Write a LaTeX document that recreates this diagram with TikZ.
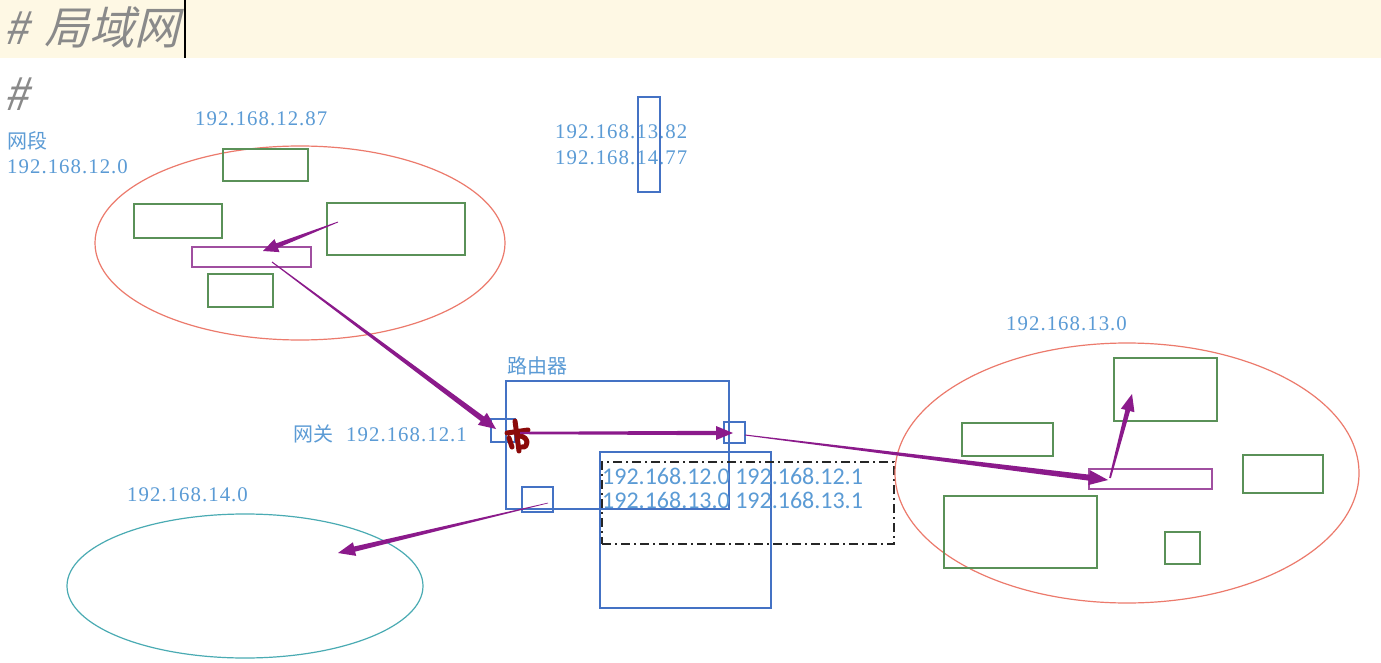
\documentclass[tikz,border=0pt]{standalone}
\usepackage{fontspec}
\setmainfont{Liberation Serif}
\newfontfamily\cjk{Noto Sans CJK SC}
\newfontfamily\cjktitle[FakeSlant=0.25]{Noto Sans CJK SC}
\newfontfamily\ipfont[LetterSpace=5]{Liberation Serif}
\newfontfamily\calib{Carlito}
\usetikzlibrary{shapes.geometric,arrows.meta,calc}
\definecolor{hdr}{HTML}{FEF8E4}
\definecolor{ttl}{HTML}{8A8A8A}
\definecolor{iptext}{HTML}{5B9BD5}
\definecolor{bblue}{HTML}{4472C4}
\definecolor{bgreen}{HTML}{5A9158}
\definecolor{ered}{HTML}{EC7A6C}
\definecolor{eteal}{HTML}{4AABB3}
\definecolor{parrow}{HTML}{8B1A8B}
\definecolor{pbox}{HTML}{A04FA0}
\definecolor{scrib}{HTML}{8B0A0A}
\newcommand\tarrow[7]{%
  \coordinate (tmpb) at ($(#2)!#5!(#1)$);
  \fill[#7] ($(#1)!#3!90:(#2)$) -- ($(tmpb)!#4!-90:(#1)$) -- ($(tmpb)!#6!-90:(#1)$) -- (#2)
     -- ($(tmpb)!#6!90:(#1)$) -- ($(tmpb)!#4!90:(#1)$) -- ($(#1)!#3!-90:(#2)$) -- cycle;}
\begin{document}
\begin{tikzpicture}[x=1pt,y=-1pt,
  rbox/.style={draw, inner sep=0pt, outer sep=0pt, line width=1.3pt},
  gbox/.style={rbox, draw=bgreen},
  bbox/.style={rbox, draw=bblue},
  pbx/.style={rbox, draw=pbox},
  ell/.style={ellipse, draw, inner sep=0pt, outer sep=0pt, line width=1.2pt},
  iplabel/.style={anchor=base west, inner sep=0pt, text=iptext, font=\ipfont\fontsize{20.8}{24}\selectfont},
  cjklabel/.style={anchor=base west, inner sep=0pt, text=iptext, font=\cjk\fontsize{20}{24}\selectfont},
  tbl/.style={anchor=base west, inner sep=0pt, text=iptext, font=\calib\fontsize{24}{28}\selectfont}]
\useasboundingbox (0,0) rectangle (1381,663);
\fill[white] (0,0) rectangle (1381,663);
% header
\fill[hdr] (0,0) rectangle (1381,58);
\node[anchor=base west, inner sep=0pt, text=ttl, font=\cjktitle\fontsize{45}{50}\selectfont] (title) at (3,45) {\#\hspace{16pt}局域网};
\coordinate (curtop) at (185,0);
\coordinate (curbot) at (185,58);
\draw[black, line width=2pt] (curtop) -- (curbot);
\node[anchor=base west, inner sep=0pt, text=ttl, font=\cjktitle\fontsize{45}{50}\selectfont] (hash2) at (3,111) {\#};

% labels
\node[iplabel] (l1287) at (195,126) {192.168.12.87};
\node[cjklabel] (lwd) at (7,149) {网段};
\node[iplabel] (l120) at (7,174) {192.168.12.0};
\node[iplabel] (l1382) at (555,139) {192.168.13.82};
\node[iplabel] (l1477) at (555,165) {192.168.14.77};
\node[bbox, minimum width=22pt, minimum height=95pt] (vbox) at (649,144.5) {};
\node[iplabel] (l130) at (1006,330) {192.168.13.0};
\node[cjklabel] (lrouter) at (507,373) {路由器};
\node[cjklabel] (lgw) at (293,441) {网关\hspace{13pt}{\ipfont\fontsize{20.8}{24}\selectfont 192.168.12.1}};
\node[iplabel] (l140) at (127,501) {192.168.14.0};

% left LAN
\node[ell, draw=ered, minimum width=410pt, minimum height=194pt] (lan12) at (300,243) {};
\node[gbox, minimum width=85pt, minimum height=32pt] (g1) at (265.5,165) {};
\node[gbox, minimum width=88pt, minimum height=34pt] (g2) at (178,221) {};
\node[gbox, minimum width=138pt, minimum height=52pt] (g3) at (396,229) {};
\node[gbox, minimum width=65pt, minimum height=33pt] (g4) at (240.5,290.5) {};
\node[pbx, minimum width=119pt, minimum height=20pt] (p1) at (251.5,257) {};

% router
\node[bbox, minimum width=223pt, minimum height=128pt] (router) at (617.5,445) {};
\node[bbox, minimum width=24pt, minimum height=23pt] (portL) at (503,430.5) {};
\node[bbox, minimum width=21pt, minimum height=21pt] (portR) at (734.5,432.5) {};
\node[bbox, minimum width=31pt, minimum height=25pt] (portB) at (537.5,499.5) {};
\node[bbox, minimum width=171pt, minimum height=156pt] (table) at (685.5,530) {};
\node[draw=black!85, line width=1.3pt, dash pattern=on 9pt off 4pt on 2pt off 4pt, inner sep=0pt, minimum width=292pt, minimum height=82pt] (route) at (748,503) {};
\node[tbl] (r1) at (602,484) {192.168.12.0 192.168.12.1};
\node[tbl] (r2) at (602,508) {192.168.13.0 192.168.13.1};

% right LAN
\node[ell, draw=ered, minimum width=464pt, minimum height=260pt] (lan13) at (1127,473) {};
\node[gbox, minimum width=103pt, minimum height=63pt] (h1) at (1165.5,389.5) {};
\node[gbox, minimum width=91pt, minimum height=33pt] (h2) at (1007.5,439.5) {};
\node[gbox, minimum width=80pt, minimum height=38pt] (h3) at (1283,474) {};
\node[gbox, minimum width=153pt, minimum height=72pt] (h4) at (1020.5,532) {};
\node[gbox, minimum width=35pt, minimum height=32pt] (h5) at (1182.5,548) {};
\node[pbx, minimum width=123pt, minimum height=20pt] (p2) at (1150.5,479) {};

% bottom-left LAN
\node[ell, draw=eteal, minimum width=356pt, minimum height=144pt] (lan14) at (245,586) {};

% scribble
\draw[scrib, line width=5pt, line cap=round, line join=round]
  (507,433) -- (528,430) (515,421) -- (519,451)
  (520,436) .. controls (529,437) and (529,448) .. (522,447)
  (509,438) -- (512,447);

% arrow end points
\coordinate (a1s) at (338,222);  \coordinate (a1t) at (263,251);
\coordinate (a2s) at (272,262);  \coordinate (a2t) at (496,429);
\coordinate (a3s) at (520,433);  \coordinate (a3t) at (733,433);
\coordinate (a4s) at (745,435);  \coordinate (a4t) at (1108,480);
\coordinate (a5s) at (1110,478); \coordinate (a5t) at (1132,394);
\coordinate (a6s) at (548,503);  \coordinate (a6t) at (338,553);

\tarrow{a1s}{a1t}{0.4pt}{2.4pt}{15pt}{7pt}{parrow}
\tarrow{a2s}{a2t}{0.5pt}{2.8pt}{17pt}{7.5pt}{parrow}
\tarrow{a3s}{a3t}{1.2pt}{2.2pt}{17pt}{7pt}{parrow}
\tarrow{a4s}{a4t}{0.5pt}{3pt}{19pt}{7.5pt}{parrow}
\tarrow{a5s}{a5t}{0.9pt}{2.4pt}{17pt}{7pt}{parrow}
\tarrow{a6s}{a6t}{0.3pt}{2.6pt}{17pt}{7pt}{parrow}
\end{tikzpicture}
\end{document}
